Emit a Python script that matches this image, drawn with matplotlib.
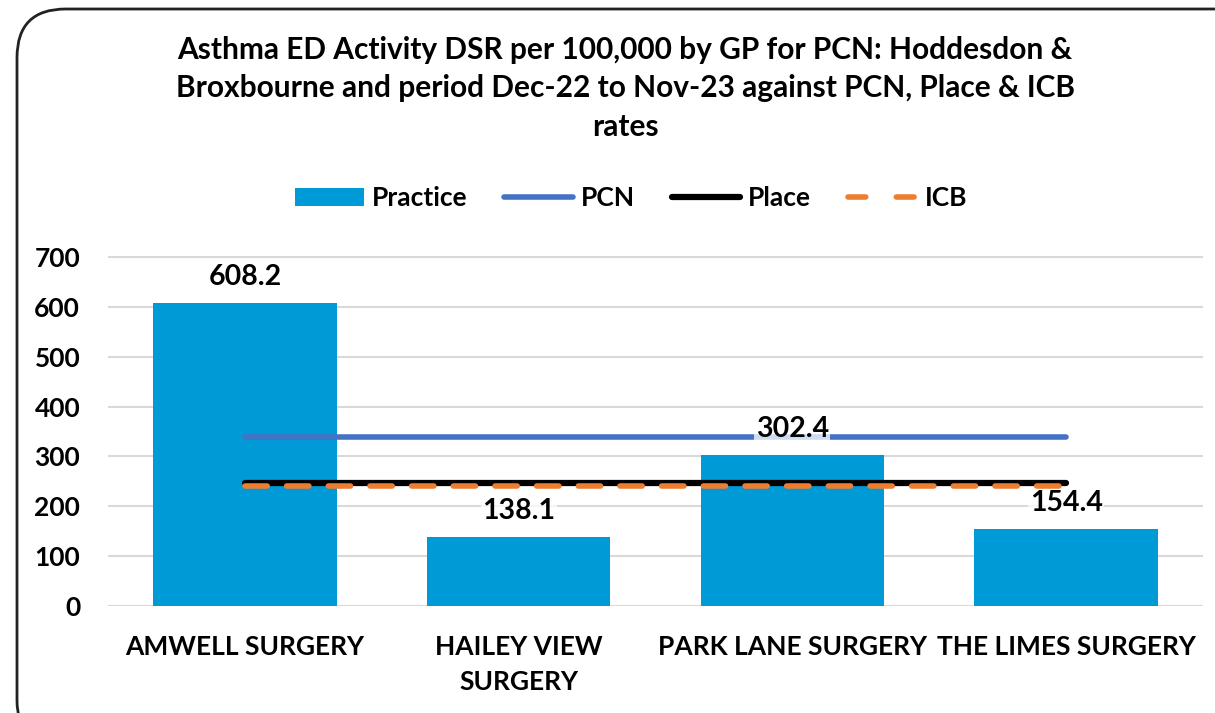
import matplotlib.pyplot as plt
import numpy as np
from matplotlib.patches import FancyBboxPatch, Patch
from matplotlib.lines import Line2D

plt.rcParams['font.family'] = ['Lato', 'DejaVu Sans']
plt.rcParams['font.weight'] = 'bold'

# Data
surgeries = ["AMWELL SURGERY", "HAILEY VIEW\nSURGERY", "PARK LANE SURGERY", "THE LIMES SURGERY"]
practice = [608.2, 138.1, 302.4, 154.4]
pcn = [339, 339, 339, 339]
place = [246, 246, 246, 246]
icb = [240, 240, 240, 240]

BAR_COLOR = "#009ad6"
PCN_COLOR = "#4472c4"
PLACE_COLOR = "#000000"
ICB_COLOR = "#ed7d31"

fig = plt.figure(figsize=(12.15, 7.13), dpi=100)
ax = fig.add_axes([108 / 1215, 1 - 606 / 713, (1203 - 108) / 1215, (606 - 257) / 713 * (750 / 700)])

x = np.arange(len(surgeries))
ax.bar(x, practice, width=0.67, color=BAR_COLOR, zorder=2)
ax.plot(x, pcn, color=PCN_COLOR, lw=4, solid_capstyle='round', zorder=3)
ax.plot(x, place, color=PLACE_COLOR, lw=4.5, solid_capstyle='round', zorder=3)
ax.plot(x, icb, color=ICB_COLOR, lw=4, dashes=(4, 3.5), dash_capstyle='round', zorder=4)

for xi, v in zip(x, practice):
    ax.text(xi, v + 26, f"{v:.1f}", ha='center', va='bottom', fontsize=20.5, fontweight='bold',
            bbox=dict(facecolor='white', alpha=0.75, edgecolor='none', pad=1.0), zorder=5)

ax.set_xlim(-0.5, 3.5)
ax.set_ylim(0, 750)
ax.set_yticks(range(0, 701, 100))
ax.set_xticks(x)
ax.set_xticklabels(surgeries, fontsize=19, fontweight='bold', linespacing=1.55)
ax.tick_params(axis='both', length=0, labelsize=19)
ax.tick_params(axis='y', pad=20)
ax.tick_params(axis='x', pad=21)
ax.grid(axis='y', color='#d9d9d9', lw=1.5, zorder=0)
ax.set_axisbelow(True)
for s in ax.spines.values():
    s.set_visible(False)
ax.axhline(0, color='#d9d9d9', lw=1.5, zorder=1)

fig.text(625 / 1215, 1 - 36 / 713,
         "Asthma ED Activity DSR per 100,000 by GP for PCN: Hoddesdon &\n"
         "Broxbourne and period Dec-22 to Nov-23 against PCN, Place & ICB\nrates",
         ha='center', va='top', fontsize=21.5, fontweight='bold', linespacing=1.45)

handles = [Patch(facecolor=BAR_COLOR),
           Line2D([], [], color=PCN_COLOR, lw=4, solid_capstyle='round'),
           Line2D([], [], color=PLACE_COLOR, lw=4.5, solid_capstyle='round'),
           Line2D([], [], color=ICB_COLOR, lw=4, dashes=(3.2, 5.5), dash_capstyle='round')]
fig.legend(handles, ["Practice", "PCN", "Place", "ICB"], loc='center',
           bbox_to_anchor=(631 / 1215, 1 - 198 / 713), ncol=4, frameon=False, fontsize=19,
           handlelength=2.6, handletextpad=0.3, columnspacing=1.4)

frame = FancyBboxPatch((17 / 1215, -0.05), 1.2, 1 - 9 / 713 + 0.05,
                       boxstyle="round,pad=0,rounding_size=0.04", transform=fig.transFigure,
                       facecolor='none', edgecolor='#222222', lw=2, mutation_aspect=1215 / 713)
fig.patches.append(frame)

fig.savefig("out.png", dpi=100)
